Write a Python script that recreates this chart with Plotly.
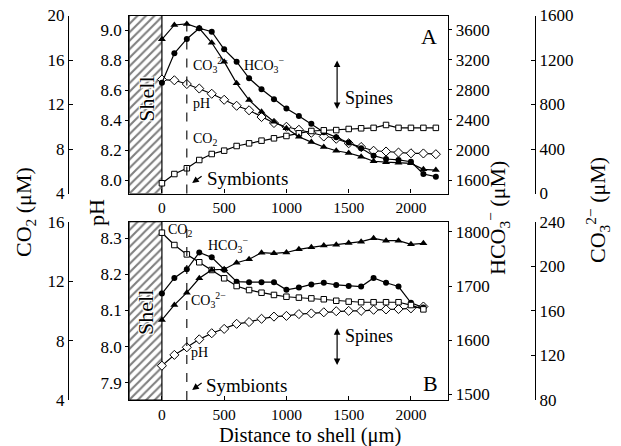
import plotly.graph_objects as go

# ---------------- data ----------------
dist_a = [0, 100, 200, 300, 400, 500, 600, 700, 800, 900, 1000, 1100,
          1200, 1300, 1400, 1500, 1600, 1700, 1800, 1900, 2000, 2100, 2200]
ph_a = [8.67, 8.665, 8.64, 8.61, 8.575, 8.535, 8.495, 8.465, 8.42, 8.38, 8.355, 8.335,
        8.315, 8.29, 8.275, 8.245, 8.22, 8.195, 8.19, 8.183, 8.178, 8.177, 8.172]
hco3_a = [2897, 3289, 3480, 3623, 3577, 3342, 3177, 2956, 2809, 2676, 2553, 2453,
          2350, 2238, 2170, 2100, 2022, 1924, 1880, 1867, 1844, 1680, 1644]
co3_a = [1386, 1515, 1524, 1485, 1355, 1185, 990, 840, 735, 645, 586, 510,
         462, 418, 384, 364, 331, 290, 282, 277, 271, 217, 211]
co2_a = [4.92, 5.75, 6.27, 7.01, 7.55, 7.85, 8.27, 8.51, 8.75, 8.96, 9.17, 9.41,
         9.62, 9.68, 9.7, 9.8, 9.86, 9.9, 10.16, 9.9, 9.9, 9.9, 9.9]

dist_b = [0, 100, 200, 300, 400, 500, 600, 700, 800, 900, 1000, 1100,
          1200, 1300, 1400, 1500, 1600, 1700, 1800, 1900, 2000, 2100]
ph_b = [7.947, 7.977, 7.998, 8.020, 8.037, 8.049, 8.063, 8.068, 8.077, 8.083, 8.085,
        8.090, 8.092, 8.095, 8.098, 8.099, 8.099, 8.102, 8.103, 8.104, 8.106, 8.111]
hco3_b = [1686, 1715, 1731, 1762, 1753, 1730, 1708, 1707, 1707, 1707, 1693,
          1697, 1703, 1706, 1702, 1700, 1699, 1715, 1706, 1699, 1669, 1660]
co3_b = [151.8, 165.3, 176.3, 189.2, 196.7, 197.3, 203.2, 206.3, 212.2, 211.6, 212.4,
         215.2, 217.0, 218.6, 219.4, 220.9, 222.1, 225.1, 223.0, 223.0, 219.7, 220.6]
co2_b = [15.26, 14.43, 13.8, 13.27, 12.75, 12.19, 11.67, 11.40, 11.22, 11.07, 10.95,
         10.89, 10.84, 10.78, 10.68, 10.62, 10.58, 10.58, 10.58, 10.58, 10.39, 10.1]

x_ticks = [0, 500, 1000, 1500, 2000]
ph_ticks_a = [8.0, 8.2, 8.4, 8.6, 8.8, 9.0]
ph_ticks_b = [7.9, 8.0, 8.1, 8.2, 8.3]
hco3_ticks_a = [1600, 2000, 2400, 2800, 3200, 3600]
hco3_ticks_b = [1500, 1600, 1700, 1800]
co2_ticks_a = [4, 8, 12, 16, 20]
co2_ticks_b = [4, 8, 12, 16]
co3_ticks_a = [0, 400, 800, 1200, 1600]
co3_ticks_b = [80, 120, 160, 200, 240]

shell_edge = [-262, 0]
symbiont_x = 200

# ---------------- layout constants ----------------
W, H = 621, 446
FONT = "Liberation Serif, Times New Roman, serif"
XL, XR = 129.3 / W, 448.3 / W
A_DOM = [1 - 193.5 / H, 1 - 15.5 / H]
B_DOM = [1 - 400 / H, 1 - 221.7 / H]
XRANGE = [-262, 2300]
PH_A = [7.91, 9.097]
PH_B = [7.852, 8.346]

fig = go.Figure()

line = dict(color="black", width=1.2)


def add_panel(xa, ya_ph, ya_h, ya_c2, ya_c3, d, ph, hc, c3, c2, phr):
    # hatched shell
    fig.add_trace(go.Scatter(
        x=[shell_edge[0], shell_edge[1], shell_edge[1], shell_edge[0], shell_edge[0]],
        y=[phr[0], phr[0], phr[1], phr[1], phr[0]],
        xaxis=xa, yaxis=ya_ph, mode="lines", fill="toself",
        fillcolor="white",
        fillpattern=dict(shape="/", fgcolor="black", bgcolor="white", size=6, solidity=0.35),
        line=dict(color="black", width=1.2), hoverinfo="skip", showlegend=False))
    fig.add_trace(go.Scatter(x=d, y=c2, xaxis=xa, yaxis=ya_c2, mode="lines+markers",
                             line=line, marker=dict(symbol="square", size=5.5, color="white",
                                                    line=dict(color="black", width=1)),
                             showlegend=False))
    fig.add_trace(go.Scatter(x=d, y=ph, xaxis=xa, yaxis=ya_ph, mode="lines+markers",
                             line=line, marker=dict(symbol="diamond", size=7, color="white",
                                                    line=dict(color="black", width=1)),
                             showlegend=False))
    fig.add_trace(go.Scatter(x=d, y=c3, xaxis=xa, yaxis=ya_c3, mode="lines+markers",
                             line=line, marker=dict(symbol="triangle-up", size=7, color="black"),
                             showlegend=False))
    fig.add_trace(go.Scatter(x=d, y=hc, xaxis=xa, yaxis=ya_h, mode="lines+markers",
                             line=line, marker=dict(symbol="circle", size=6, color="black"),
                             showlegend=False))


add_panel("x2", "y5", "y6", "y7", "y8", dist_a, ph_a, hco3_a, co3_a, co2_a, PH_A)
add_panel("x", "y", "y2", "y3", "y4", dist_b, ph_b, hco3_b, co3_b, co2_b, PH_B)

xtickfont = dict(family=FONT, size=15.5, color="black")
ytickfont = dict(family=FONT, size=17, color="black")
axcommon = dict(showgrid=False, zeroline=False, showline=True, linecolor="black",
                linewidth=1.3, tickcolor="black", tickfont=ytickfont, automargin=False)

xcommon = dict(axcommon, range=XRANGE, domain=[XL, XR], tickvals=x_ticks,
               ticks="inside", ticklen=4, mirror=True, tickfont=xtickfont)

fig.update_layout(
    width=W, height=H, margin=dict(l=0, r=0, t=0, b=0),
    paper_bgcolor="white", plot_bgcolor="white",
    xaxis=dict(xcommon, anchor="y"),
    xaxis2=dict(xcommon, anchor="y5"),
    # panel B
    yaxis=dict(axcommon, domain=B_DOM, range=PH_B, tickvals=ph_ticks_b, tickformat=".1f",
               ticks="outside", ticklen=3, anchor="x"),
    yaxis2=dict(axcommon, overlaying="y", side="right", range=[1489, 1819],
                tickvals=hco3_ticks_b, ticks="outside", ticklen=3, anchor="x"),
    yaxis3=dict(axcommon, overlaying="y", side="left", anchor="free", position=68 / W,
                range=[4, 16], tickvals=co2_ticks_b, ticks="inside", ticklen=4),
    yaxis4=dict(axcommon, overlaying="y", side="right", anchor="free", position=535 / W,
                range=[80, 240], tickvals=co3_ticks_b, ticks="inside", ticklen=4),
    # panel A
    yaxis5=dict(axcommon, domain=A_DOM, range=PH_A, tickvals=ph_ticks_a, tickformat=".1f",
                ticks="outside", ticklen=3, anchor="x2"),
    yaxis6=dict(axcommon, overlaying="y5", side="right", range=[1420, 3793],
                tickvals=hco3_ticks_a, ticks="outside", ticklen=3, anchor="x2"),
    yaxis7=dict(axcommon, overlaying="y5", side="left", anchor="free", position=68 / W,
                range=[4, 20], tickvals=co2_ticks_a, ticks="inside", ticklen=4),
    yaxis8=dict(axcommon, overlaying="y5", side="right", anchor="free", position=535 / W,
                range=[0, 1600], tickvals=co3_ticks_a, ticks="inside", ticklen=4),
)

# dashed symbiont lines
for xa, ya in (("x2", "y5"), ("x", "y")):
    fig.add_shape(type="line", xref=xa, yref=f"{ya} domain", x0=symbiont_x, x1=symbiont_x,
                  y0=0, y1=1, line=dict(color="black", width=1.1, dash="dash"))

ann = []
shadow = "1px 1px 0 white, -1px -1px 0 white, 1px -1px 0 white, -1px 1px 0 white, 0 0 2px white"


def txt(x, y, t, xref, yref, size=14, xanchor="left", yanchor="middle", angle=0, sh=None):
    f = dict(family=FONT, size=size, color="black")
    if sh:
        f["shadow"] = sh
    ann.append(dict(x=x, y=y, text=t, xref=xref, yref=yref, showarrow=False, borderpad=0,
                    xanchor=xanchor, yanchor=yanchor, textangle=angle, font=f))


def arrow(x, y, ax, ay, xref, yref, both=False):
    ann.append(dict(x=x, y=y, ax=ax, ay=ay, xref=xref, yref=yref, axref=xref, ayref=yref,
                    text="", showarrow=True, arrowhead=2, arrowsize=1.1, arrowwidth=1.2,
                    arrowcolor="black", startarrowhead=2, startarrowsize=1.1,
                    arrowside="end+start" if both else "end"))


# panel A labels
txt(243, 8.767, "CO<sub>3</sub><sup>2−</sup>", "x2", "y5")
txt(652, 8.767, "HCO<sub>3</sub><sup>−</sup>", "x2", "y5")
txt(243, 8.513, "pH", "x2", "y5")
txt(243, 8.273, "CO<sub>2</sub>", "x2", "y5")
arrow(243, 7.98, 331, 8.033, "x2", "y5")
txt(357, 8.013, "Symbionts", "x2", "y5", size=19)
arrow(1407, 8.473, 1407, 8.807, "x2", "y5", both=True)
txt(1462, 8.547, "Spines", "x2", "y5", size=18)
txt(2145, 8.96, "A", "x2", "y5", size=22, xanchor="center")
txt(-131, 8.54, "Shell", "x2", "y5", size=22, xanchor="center", angle=-90, sh=shadow)

# panel B labels
txt(43, 8.323, "CO<sub>2</sub>", "x", "y")
txt(363, 8.282, "HCO<sub>3</sub><sup>−</sup>", "x", "y")
txt(227, 8.129, "CO<sub>3</sub><sup>2−</sup>", "x", "y")
txt(227, 7.985, "pH", "x", "y")
arrow(243, 7.880, 331, 7.902, "x", "y")
txt(347, 7.891, "Symbionts", "x", "y", size=19)
arrow(1407, 7.949, 1407, 8.055, "x", "y", both=True)
txt(1462, 8.028, "Spines", "x", "y", size=18)
txt(2153, 7.897, "B", "x", "y", size=22, xanchor="center")
txt(-131, 8.095, "Shell", "x", "y", size=22, xanchor="center", angle=-90, sh=shadow)

# axis titles
txt(25 / W, 1 - 212 / H, "CO<sub>2</sub> (μM)", "paper", "paper", size=22, xanchor="center", angle=-90)
txt(97 / W, 1 - 213 / H, "pH", "paper", "paper", size=22, xanchor="center", angle=-90)
txt(497 / W, 1 - 218 / H, "HCO<sub>3</sub><sup>−</sup> (μM)", "paper", "paper", size=22,
    xanchor="center", angle=-90)
txt(597 / W, 1 - 210 / H, "CO<sub>3</sub><sup>2−</sup> (μM)", "paper", "paper", size=22,
    xanchor="center", angle=-90)
txt(310 / W, 1 - 435 / H, "Distance to shell (μm)", "paper", "paper", size=20.5, xanchor="center")

fig.update_layout(annotations=ann)

fig.write_html("out.html", config={"displayModeBar": False},
               post_script="document.body.style.margin='0px';")
